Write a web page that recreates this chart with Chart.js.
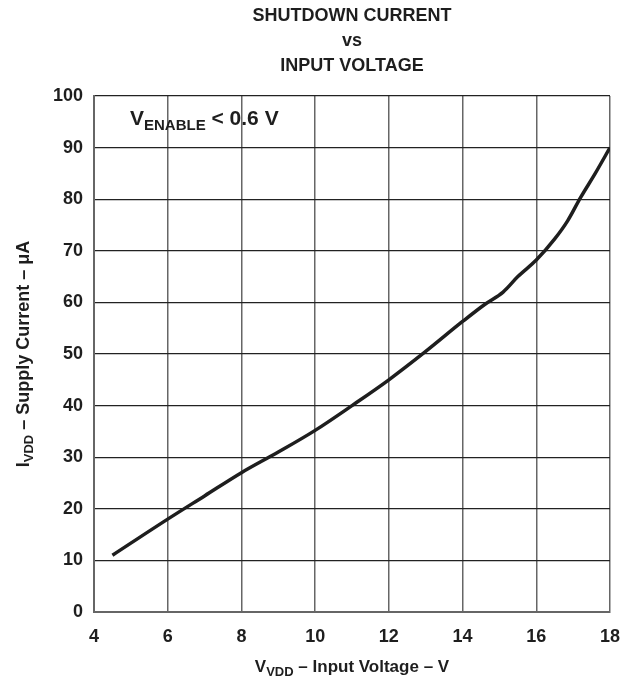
<!DOCTYPE html>
<html>
<head>
<meta charset="utf-8">
<script src="https://cdn.jsdelivr.net/npm/chart.js@4.4.1/dist/chart.umd.min.js"></script>
<style>
  html, body { margin: 0; padding: 0; background: #fff; }
</style>
</head>
<body>
<canvas id="chart" width="634" height="686"></canvas>
<script>
// values
const inputVoltage  = [4.5, 6, 7, 8, 9, 10, 11, 12, 13, 14, 14.6, 15.1, 15.5, 16, 16.5, 16.85, 17.2, 17.6, 18];
const supplyCurrent = [11, 18, 22.5, 27, 31, 35.2, 40, 45, 50.5, 56.3, 59.6, 62, 65, 68.2, 72.3, 75.8, 80.3, 85, 90];
const xTicks = [4, 6, 8, 10, 12, 14, 16, 18];
const yTicks = [0, 10, 20, 30, 40, 50, 60, 70, 80, 90, 100];
const titleLines = ['SHUTDOWN CURRENT', 'vs', 'INPUT VOLTAGE'];

const FONT = 'Liberation Sans, Arial, Helvetica, sans-serif';
const ink = '#1e1e1e';

const points = inputVoltage.map((v, i) => ({ x: v, y: supplyCurrent[i] }));

// draws text made of normal + subscript pieces
function richText(ctx, parts, x, y, size, subSize, align) {
  let w = 0;
  parts.forEach(p => {
    ctx.font = 'bold ' + (p.sub ? subSize : size) + 'px ' + FONT;
    w += ctx.measureText(p.t).width;
  });
  let cx = align === 'left' ? x : x - w / 2;
  ctx.textAlign = 'left';
  parts.forEach(p => {
    ctx.font = 'bold ' + (p.sub ? subSize : size) + 'px ' + FONT;
    ctx.fillText(p.t, cx, y + (p.sub ? Math.round(size * 0.22) : 0));
    cx += ctx.measureText(p.t).width;
  });
}

const labelsPlugin = {
  id: 'labels',
  afterDraw(chart) {
    const ctx = chart.ctx;
    const area = chart.chartArea;
    const mid = (area.left + area.right) / 2;
    ctx.save();
    ctx.fillStyle = ink;
    ctx.textBaseline = 'alphabetic';

    ctx.font = 'bold 18px ' + FONT;
    ctx.textAlign = 'center';
    titleLines.forEach((t, i) => ctx.fillText(t, mid, 21 + i * 25));

    richText(ctx, [{ t: 'V' }, { t: 'VDD', sub: true }, { t: ' \u2013 Input Voltage \u2013 V' }], mid, 672, 17, 13);

    ctx.save();
    ctx.translate(29, (area.top + area.bottom) / 2);
    ctx.rotate(-Math.PI / 2);
    richText(ctx, [{ t: 'I' }, { t: 'VDD', sub: true }, { t: ' \u2013 Supply Current \u2013 \u03bcA' }], 0, 0, 18, 13);
    ctx.restore();

    richText(ctx, [{ t: 'V' }, { t: 'ENABLE', sub: true }, { t: ' < 0.6 V' }], 130, 125, 21, 15, 'left');
    ctx.restore();
  }
};

new Chart(document.getElementById('chart'), {
  type: 'scatter',
  data: {
    datasets: [{
      data: points,
      showLine: true,
      borderColor: ink,
      borderWidth: 3.5,
      pointRadius: 0,
      cubicInterpolationMode: 'monotone',
      fill: false
    }]
  },
  options: {
    responsive: false,
    animation: false,
    layout: { padding: { top: 96, right: 23, bottom: 0, left: 0 } },
    plugins: {
      legend: { display: false },
      title: { display: false },
      tooltip: { enabled: false }
    },
    scales: {
      x: {
        type: 'linear',
        min: 4,
        max: 18,
        afterBuildTicks: s => { s.ticks = xTicks.map(v => ({ value: v })); },
        afterFit: s => { s.height = 74; },
        grid: { color: '#666', lineWidth: 1.5, drawTicks: false },
        border: { color: '#666', width: 2 },
        ticks: { color: ink, padding: 14, font: { family: FONT, size: 18, weight: 'bold' } }
      },
      y: {
        type: 'linear',
        min: 0,
        max: 100,
        afterBuildTicks: s => { s.ticks = yTicks.map(v => ({ value: v })); },
        afterFit: s => { s.width = 94; },
        grid: { color: '#222', lineWidth: 1.2, drawTicks: false },
        border: { color: '#666', width: 2 },
        ticks: { color: ink, padding: 11, font: { family: FONT, size: 18, weight: 'bold' } }
      }
    }
  },
  plugins: [labelsPlugin]
});
</script>
</body>
</html>
